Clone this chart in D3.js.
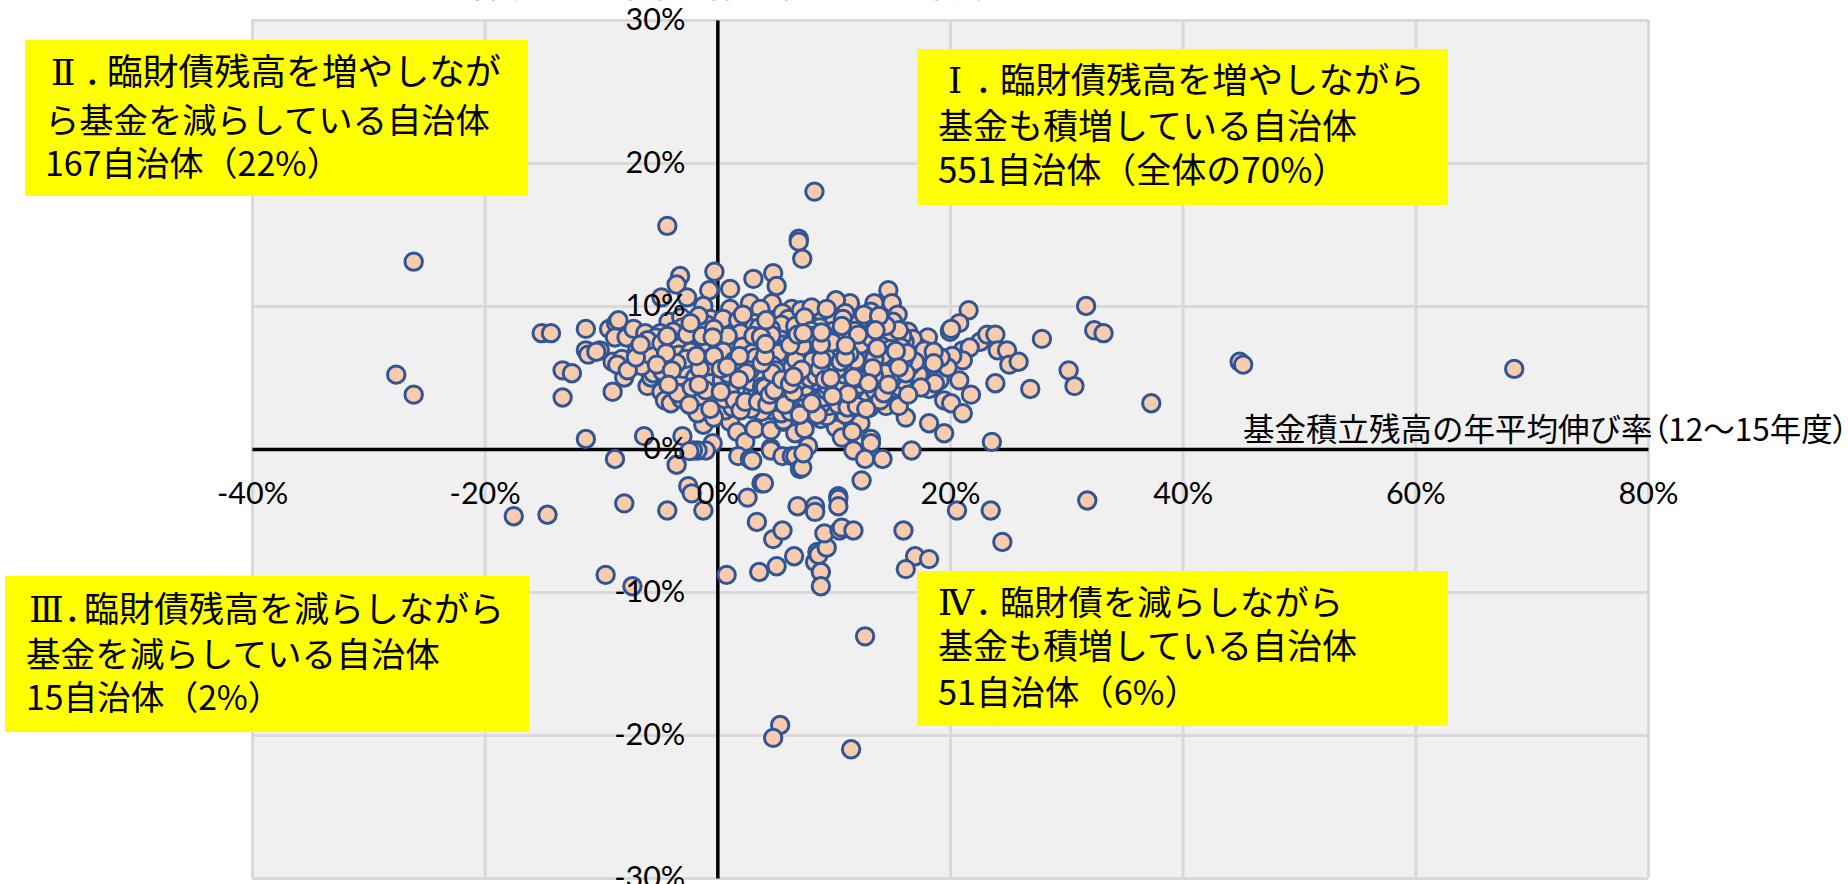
<!DOCTYPE html>
<html>
<head>
<meta charset="utf-8">
<script src="https://cdn.jsdelivr.net/npm/d3@7"></script>
<style>
  html, body { margin: 0; padding: 0; background: #fff; overflow: hidden; }
  svg { display: block; }
  .tick-labels text { font-family: Lato, "Open Sans", sans-serif; font-size: 30.5px; fill: #000; }
  .jp { font-family: "Noto Sans CJK JP", sans-serif; fill: #000; }
  .narrow { font-feature-settings: "palt"; }
</style>
</head>
<body>
<svg id="chart" width="1848" height="884"></svg>
<script>
// x = 基金積立残高の年平均伸び率 (%), y = 臨財債残高の年平均伸び率 (%)
const xTicks = [-40, -20, 0, 20, 40, 60, 80];
const yTicks = [-30, -20, -10, 0, 10, 20, 30];

// dense middle of the cloud, read row by row
const coreRight = [
  [2.2,9.4],[5.6,9.5],[7.2,9.7],[8.1,9.9],[8.9,9.6],[9.4,9.8],[11,9.5],[12.6,9.4],[13.9,9.3],
  [0.5,9.1],[1.8,9],[4.2,9],[6.1,9.1],[7.5,9.2],[8.5,9],[9.9,8.9],[10.8,9.1],[12.2,9],[14.1,9],[15.1,8.9],
  [0.3,8.6],[1.4,8.4],[2.5,8.6],[3.6,8.5],[4.6,8.4],[5.5,8.7],[6.7,8.6],[7.8,8.4],[8.8,8.5],[9.6,8.4],[10.7,8.6],[11.5,8.4],[12.7,8.5],[13.6,8.3],[14.5,8.6],[15.6,8.3],[16.4,8.2],
  [0.2,8],[0.9,7.9],[2,8.1],[3.1,7.9],[4,8],[5.1,8.1],[6,7.9],[6.9,8],[7.4,8.1],[8.3,7.9],[9.2,8],[10.3,8.1],[11.1,7.8],[12.1,8],[13,7.9],[14,8.1],[15,7.8],[15.9,7.9],[16.8,7.7],
  [0.4,7.6],[1.2,7.5],[2.4,7.7],[3.4,7.5],[4.4,7.6],[5.3,7.4],[6.3,7.6],[7.1,7.5],[7.9,7.7],[8.7,7.5],[9.5,7.6],[10.1,7.4],[10.9,7.6],[11.7,7.5],[12.5,7.6],[13.4,7.4],[14.3,7.5],[15.3,7.4],[16.1,7.5],[17,7.3],
  [0.1,7.2],[0.8,7.1],[1.7,7.3],[2.7,7.2],[3.7,7.1],[4.8,7.2],[5.7,7.3],[6.5,7.1],[7.3,7.2],[8.1,7.1],[8.9,7.3],[9.7,7.1],[10.5,7.2],[11.3,7.1],[12.3,7.3],[13.2,7.1],[14.1,7.2],[14.9,7],[15.8,7.1],[16.6,7],[17.8,6.9],[18.6,6.8],
  [0.5,6.8],[1.3,6.7],[2.2,6.9],[3,6.7],[3.9,6.8],[4.5,6.9],[5.2,6.7],[6.1,6.8],[6.8,6.7],[7.6,6.9],[8.4,6.7],[9.1,6.8],[9.9,6.7],[10.7,6.9],[11.6,6.7],[12.4,6.8],[13.1,6.6],[13.9,6.8],[14.7,6.7],[15.5,6.6],[16.3,6.7],[18.1,6.5],[19.2,6.4],
  [0.2,6.4],[1,6.3],[1.9,6.5],[2.6,6.3],[3.3,6.4],[4.1,6.5],[4.9,6.3],[5.6,6.4],[6.4,6.3],[7,6.5],[7.8,6.3],[8.6,6.4],[9.3,6.5],[10.2,6.3],[11,6.4],[11.9,6.2],[12.7,6.4],[13.5,6.3],[14.4,6.2],[15.2,6.4],[16,6.2],[17,6.1],[18.6,6],
  [0.6,6],[1.5,5.9],[2.3,6.1],[3.1,5.9],[3.8,6],[4.6,6.1],[5.4,5.9],[6.2,6],[6.9,5.9],[7.5,6.1],[8.2,5.9],[9,6],[9.8,5.9],[10.6,6.1],[11.4,5.9],[12.2,6],[13,5.8],[13.8,5.9],[14.6,5.8],[15.6,5.7],[16.6,5.8],[17.6,5.6],[19.8,5.7],
  [0.3,5.6],[1.1,5.5],[2,5.7],[2.8,5.5],[3.5,5.6],[4.3,5.7],[5,5.5],[5.8,5.6],[6.6,5.5],[7.3,5.7],[8,5.5],[8.8,5.6],[9.5,5.4],[10.3,5.6],[11.2,5.5],[12,5.6],[12.8,5.4],[13.6,5.5],[14.4,5.3],[15.3,5.4],[16.2,5.3],[17.3,5.2],
  [0.7,5.2],[1.6,5.1],[2.5,5.3],[3.2,5.1],[4,5.2],[4.7,5.3],[5.5,5.1],[6.3,5.2],[7,5],[7.7,5.2],[8.5,5.1],[9.2,5.2],[10,5],[10.9,5.2],[11.7,5],[12.5,5.1],[13.3,4.9],[14.1,5],[15,4.9],[16,4.8],[16.9,4.9],[18.7,4.6],
  [0.4,4.8],[1.2,4.7],[2.1,4.9],[2.9,4.7],[3.6,4.8],[4.4,4.6],[5.2,4.8],[6,4.7],[6.7,4.5],[7.4,4.7],[8.2,4.8],[9,4.6],[9.7,4.7],[10.5,4.5],[11.4,4.7],[12.2,4.5],[13,4.6],[13.8,4.4],[14.7,4.5],[15.7,4.3],[16.7,4.4],[17.5,4.3],
  [0.8,4.4],[1.7,4.3],[2.6,4.4],[3.4,4.2],[4.1,4.3],[4.9,4.1],[5.7,4.3],[6.4,4.2],[7.1,4],[7.9,4.2],[8.7,4.3],[9.4,4.1],[10.2,4.2],[11,4],[11.8,4.2],[12.7,4],[13.5,4.1],[14.3,3.9],[16.4,3.8],
  [0.3,4],[1.1,3.9],[2.2,3.8],[3,3.9],[3.8,3.7],[4.5,3.8],[5.3,3.6],[6.1,3.8],[6.9,3.7],[7.6,3.5],[8.4,3.7],[9.1,3.6],[9.9,3.7],[10.7,3.5],[11.5,3.6],[12.3,3.4],[13.2,3.5],[14,3.4],
  [0.6,3.5],[1.5,3.4],[2.4,3.3],[3.5,3.3],[4.3,3.1],[5,3.3],[5.8,3.1],[6.6,3.2],[7.3,3],[8.1,3.2],[8.9,3.1],[9.6,3],[10.4,3.1],[11.2,2.9],[12,3],[12.8,2.8],
  [1.3,2.9],[2,2.7],[2.9,2.8],[3.8,2.6],[4.7,2.7],[5.5,2.5],[6.3,2.6],[7.1,2.4],[7.9,2.6],[8.6,2.4],[9.4,2.3],[11,2.4],[0.7,2.7]
];

// the darkest knot, where the outlines pile up over each other
const coreKnot = [
  [1.7,7.8],[2.9,7.4],[3.3,6.95],[4.15,7.35],[5.45,7.65],[5.05,6.85],[6.55,7.85],[6.25,7.25],[6.75,6.25],[7.25,7.75],[7.65,6.55],[8.05,7.35],[8.55,6.95],[8.15,6.15],[9.05,7.65],[9.35,6.85],[9.85,7.45],[9.65,6.25],[10.45,6.75],[10.15,7.85],
  [11.05,7.25],[11.35,6.65],[11.85,7.75],[12.05,6.55],[12.65,7.15],[1.25,6.95],[2.05,6.25],[2.75,6.65],[3.55,6.15],[4.25,6.75],[4.75,5.85],[5.35,6.25],[5.95,6.55],[6.45,5.75],[7.15,6.15],[7.85,5.75],[8.35,5.45],[8.95,6.25],[9.55,5.75],[10.05,6.05],
  [10.75,5.65],[11.25,6.05],[11.75,5.45],[12.35,5.85],[13.15,6.25],[13.35,5.65],[1.75,5.55],[2.45,5.85],[3.25,5.45],[3.95,5.65],[4.55,5.25],[5.15,5.75],[5.65,5.25],[6.15,5.45],[6.85,5.25],[7.45,5.45],[7.95,4.95],[8.65,5.35],[9.25,4.85],[9.85,5.35],
  [10.45,4.95],[11.05,5.25],[11.55,4.85],[12.25,5.25],[12.95,4.95],[13.65,4.75],[0.95,5.25],[1.85,4.85],[2.65,5.05],[3.35,4.65],[4.15,4.95],[4.85,4.55],[5.55,4.85],[6.25,4.55],[6.95,4.75],[7.55,4.35],[8.25,4.55],[8.85,4.15],[9.45,4.45],[10.15,4.75],
  [10.85,4.35],[11.55,4.45],[12.45,4.25],[0.55,6.55],[0.85,5.75],[1.45,6.15],[2.85,6.05],[3.65,5.25],[4.45,6.25],[5.85,7.05],[6.65,6.85],[7.35,6.75],[8.75,7.25],[9.45,7.05],[10.65,7.55],[11.55,7.15],[12.85,6.45],[13.75,7.05],[14.25,6.55],[14.85,6.15],
  [15.35,6.85],[13.95,5.35],[14.55,5.65],[15.15,5.15],[2.15,7.15],[3.05,7.65],[3.75,7.85],[4.65,7.95],[5.55,8.15],[6.45,8.25],[7.15,8.35],[8.05,8.25],[8.95,8.15],[9.95,8.25],[10.85,8.05],[11.85,8.25],[12.45,7.95],[13.25,7.75],[1.05,4.55],[1.95,4.15],
  [2.85,4.25],[3.85,4.35],[4.65,3.95],[5.45,4.25],[6.55,3.95],[7.35,4.35],[8.15,3.85],[9.25,3.95],[10.35,3.85],[11.25,3.85],[6.05,6.05],[6.85,5.65],[7.55,5.25],[8.45,6.05],[9.15,5.55],[9.95,5.55],[7.25,5.55],[8.05,6.55],[8.85,6.65],[5.75,6.65],
  [5.25,5.35],[6.35,6.65],[7.05,7.05],[7.75,7.15],[8.45,7.65],[9.25,7.35],[10.35,7.05],[10.95,6.65],[11.65,6.35],[12.45,6.25],[4.05,5.95],[3.45,5.85],[2.95,5.45],[2.25,5.35],[1.55,5.75],[6.95,6.35],[5.05,5.15],[4.35,5.45],[5.75,5.05],[6.55,5.05],
  [7.65,4.85],[8.45,4.75],[9.05,5.05],[9.75,4.95],[10.55,5.15],[11.45,5.15],[12.05,4.95],[12.75,5.25],[13.45,5.15]
];

const coreLeft = [
  [-3.1,9.2],[-1.6,9.3],[-0.6,9.1],[-2.3,8.8],[-0.9,8.7],[-0.3,8.4],[-1.8,8.3],[-3,8.5],[-3.8,8.2],
  [-2.6,8],[-1.3,7.9],[-0.4,7.8],[-4.3,7.9],[-5.3,7.8],[-3.4,7.6],[-2,7.5],[-0.8,7.4],[-0.2,7.2],
  [-6,7.6],[-4.8,7.4],[-3.9,7.2],[-2.9,7.1],[-1.5,7.1],[-0.6,6.9],[-6.6,7.3],[-5.1,7.1],[-2.3,6.8],[-1,6.7],
  [-4.4,6.7],[-3.3,6.6],[-1.8,6.5],[-0.3,6.5],[-5.8,6.6],[-7,6.4],[-2.7,6.3],[-1.2,6.2],[-0.7,6],
  [-4.1,6.2],[-3.5,6],[-2.1,5.9],[-0.2,5.8],[-5.2,5.9],[-6.5,5.8],[-8.6,5.9],[-2.9,5.6],[-1.5,5.6],[-0.9,5.4],
  [-3.9,5.5],[-2.4,5.3],[-0.4,5.2],[-4.7,5.4],[-1.9,5],[-3.2,5.1],[-1.1,4.9],[-7.7,5.5],[-2.7,4.8],
  [-3.7,4.7],[-0.6,4.6],[-1.6,4.5],[-2.2,4.3],[-4.2,4.5],[-0.3,4.2],[-1,4.1],[-3.4,3.9],[-2.5,3.7],[-1.4,3.7],
  [-0.7,3.6],[-1.9,3.5],[-0.2,3.4],[-3.1,3.5],[-1.1,3],[-2.4,3.1],[-0.6,2.8],[-1.7,2.5],[-0.3,2.2]
];

const edgeRight = [
  [14.7,11.1],[11.4,10.2],[10.2,10.4],[13.5,10.2],[15,10.2],[13.2,9.6],[15.5,9.4],[13.1,8.8],[16,8.1],[16.3,8.2],[15.4,7.8],[12,8.6],[10,9],
  [21.6,9.7],[20.8,8.8],[20,8.3],[20,8.2],[20.1,8.4],[18.1,7.8],[17.3,7.1],[17.3,6.3],[22.6,7.5],[23.2,8],[23.9,8],[24.1,6.9],[24.9,6.9],[25.1,5.9],[25.9,6.1],[27.9,7.7],
  [31.7,10],[32.4,8.3],[33.2,8.1],[30.2,5.5],[30.7,4.4],[26.9,4.2],[23.9,4.6],[21.1,6.9],[21.7,7.1],[21.1,6.2],[20.2,6.5],[20.8,4.8],[21.8,3.8],[19.5,3.4],[20.1,3.2],[21.1,2.5],
  [18.2,1.8],[19.5,1.1],[23.6,0.5],[16.2,2.2],[14.5,3],[15.6,3],[13.2,0.7],[13.2,0.4],[10.2,1.5],[10.2,2.6],[10.7,0.8],[18.2,4.2],[19.1,4.8],[15.3,4.2],
  [13.1,2.9],[12.3,1.8],[11.6,1.2],[68.5,5.6],[44.9,6.1],[45.2,5.9],[37.3,3.2],
  [8.35,18],[7,14.7],[7,14.5],[7.3,13.3],[4.8,12.3],[5.1,11.4],[3.1,11.9],[1.1,11.2],[1.1,9.8],[2.8,10.2],[4.7,10.2],[3.7,9.8],[6.4,9.8],[3.2,8.8],
  [1.1,1.9],[1.7,1.2],[2.4,0.5],[3.2,1.4],[4.6,1.3],[5.7,1.9],[5.7,2],[6.7,1.1],[7.5,1.4],[7.8,0.2],[8.9,2.1],[3.5,3.3],[4.6,0.05]
];

const edgeLeft = [
  [-26.1,13.1],[-27.6,5.2],[-26.1,3.8],[-4.3,15.6],[-0.25,12.4],[-3.2,12.1],[-3.5,11.5],[-0.7,11.1],[-4.8,10.6],[-2.6,10.6],[-1.2,10],[-4.2,8.9],
  [-15.1,8.1],[-14.3,8.1],[-11.3,8.4],[-11.3,6.9],[-11.1,6.6],[-13.3,5.5],[-12.5,5.3],[-13.3,3.6],[-11.3,0.7],[-6.3,0.9],
  [-9,4],[-8,5],[-9.3,8.4],[-8.7,8.8],[-8.5,9],[-8.8,7.8],[-9,6.1],[-10.1,6.9],[-10.4,6.8],[-7.8,7.8],[-7.2,8.4],[-6.2,8.1],[-4.9,8.1],
  [-6,4.4],[-5.7,5],[-5.5,5.3],[-4.8,4],[-4.5,3.4],[-4,3.2],[-3,4.2],[-2,2.9],[-1.9,3],[-1.2,1.7],[-0.4,3.2],[-3,0.9],[-0.4,0.4],[-6.9,6.9],[-6.4,7],[-5.6,7.2],[-7.6,6.2],[-7.2,5.8],[-8.2,6.3],
  [-4.6,6.8],[-4.2,6.5],[-3.5,7],[-3.2,7.5],[-2.4,8.5]
];

const lowerLeft = [
  [-17.5,-4.7],[-14.6,-4.6],[-9.6,-8.8],[-7.3,-9.6],[-8.8,-0.7],[-8,-3.8],[-4.3,-4.3],[-3.5,-1.1],
  [-2.5,-2.6],[-2.2,-3.1],[-1.2,-4.3],[-1,-0.1],[-1.7,-0.1],[-2.1,-0.1],[-2.4,-0.15]
];

const lowerRight = [
  [0.8,-8.8],[3.6,-8.6],[5.1,-8.2],[6.6,-7.5],[8.4,-7.9],[8.9,-8.6],[8.9,-9.6],[8.6,-7.2],[8.7,-7.4],[9.4,-6.9],
  [4.8,-6.3],[5.6,-5.7],[3.4,-5.1],[2.6,-3.4],[3.8,-2.4],[4,-2.4],[6.9,-4],[8.4,-4],[8.4,-4.4],
  [10.4,-3.3],[10.4,-3.5],[10.4,-4],[9.2,-5.9],[10.5,-5.7],[10.7,-5.5],[11.7,-5.7],[12.4,-2.2],[16,-5.7],
  [17,-7.5],[18.2,-7.7],[16.2,-8.4],[12.7,-13.1],[5.4,-19.3],[4.8,-20.2],[11.5,-21],[20.6,-4.3],[23.5,-4.3],[24.5,-6.5],[31.8,-3.6],
  [1.8,-0.5],[2.8,-0.7],[3,-0.8],[4.6,-0.1],[5.6,-0.5],[6.4,-0.5],[6.7,-0.5],[7.1,-1.4],[7.3,-1.3],[7.4,-0.3],[11.7,-0.1],[12.7,-0.7],[14.2,-0.7],[16.7,-0.1]
];

// the source file isn't sorted by position, so mix the draw order of the middle
const drawKey = d => Math.abs(d[0] * 7.3 + d[1] * 13.7) % 1;
const core = [...coreRight, ...coreKnot, ...coreLeft].sort((a, b) => drawKey(a) - drawKey(b));
const points = [...edgeRight, ...edgeLeft, ...core, ...lowerLeft, ...lowerRight];

const yTitle = ["臨財債残高の年平均伸び率", "（12～15年度）"];
const xTitle = ["基金積立残高の年平均伸び率", "（12～15年度）"];

// note boxes, one row per quadrant: [text, x, baseline, font size]
const notes = [
  { box: [25, 40, 503, 156], numeral: ["Ⅱ", 51, 85], dot: 84, rows: [["臨財債残高を増やしなが", 107, 85, 35.8], ["ら基金を減らしている自治体", 45, 133, 34.3], ["167自治体（22%）", 45, 176, 34]] },
  { box: [917, 49, 531, 156], numeral: ["Ⅰ", 948, 93], dot: 975, rows: [["臨財債残高を増やしながら", 1000, 93, 35.4], ["基金も積増している自治体", 938, 139, 35], ["551自治体（全体の70%）", 938, 183, 35]] },
  { box: [5, 576, 524, 156], numeral: ["Ⅲ", 29, 622], dot: 64, rows: [["臨財債残高を減らしながら", 84, 622, 35], ["基金を減らしている自治体", 26, 667, 34.6], ["15自治体（2%）", 26, 710, 33.7]] },
  { box: [917, 571, 531, 155], numeral: ["Ⅳ", 938, 615], dot: 975, rows: [["臨財債を減らしながら", 1000, 615, 34.3], ["基金も積増している自治体", 938, 659, 35], ["51自治体（6%）", 938, 705, 34.4]] }
];

const svg = d3.select("#chart");

const x = d3.scaleLinear().domain([-40, 80]).range([252, 1648]);
const y = d3.scaleLinear().domain([-30, 30]).range([878, 20]);

svg.append("rect")
  .attr("x", x(-40))
  .attr("y", y(30))
  .attr("width", x(80) - x(-40))
  .attr("height", y(-30) - y(30))
  .attr("fill", "#f0f0f0");

// grid
const gridX = svg.append("g")
  .attr("transform", `translate(0,${y(-30)})`)
  .call(d3.axisBottom(x).tickValues(xTicks).tickSize(y(30) - y(-30)).tickFormat(""));
const gridY = svg.append("g")
  .attr("transform", `translate(${x(-40)},0)`)
  .call(d3.axisLeft(y).tickValues(yTicks).tickSize(x(-40) - x(80)).tickFormat(""));
[gridX, gridY].forEach(g => {
  g.select(".domain").remove();
  g.selectAll("line").attr("stroke", "#d9d9d9").attr("stroke-width", 3);
});

// zero lines
const zeroX = svg.append("g")
  .attr("transform", `translate(0,${y(0)})`)
  .call(d3.axisBottom(x).tickValues([]).tickSize(0));
const zeroY = svg.append("g")
  .attr("transform", `translate(${x(0)},0)`)
  .call(d3.axisLeft(y).tickValues([]).tickSize(0));
[zeroX, zeroY].forEach(g => g.select(".domain").attr("stroke", "#000").attr("stroke-width", 3.5));

svg.append("g")
  .selectAll("circle")
  .data(points)
  .join("circle")
  .attr("cx", d => x(d[0]))
  .attr("cy", d => y(d[1]))
  .attr("r", 8.7)
  .attr("fill", "#f8cbad")
  .attr("stroke", "#2f5597")
  .attr("stroke-width", 3);

// tick labels sit over the points
const labelX = svg.append("g")
  .attr("class", "tick-labels")
  .attr("transform", `translate(0,${y(0)})`)
  .call(d3.axisBottom(x).tickValues(xTicks).tickSize(0).tickPadding(33).tickFormat(d => d + "%"));
const labelY = svg.append("g")
  .attr("class", "tick-labels")
  .attr("transform", `translate(${x(0)},0)`)
  .call(d3.axisLeft(y).tickValues(yTicks).tickSize(0).tickPadding(32).tickFormat(d => d + "%"));
[labelX, labelY].forEach(g => g.select(".domain").remove());
labelX.attr("font-family", null).attr("font-size", null);
labelY.attr("font-family", null).attr("font-size", null);

// axis titles, the y one runs off the top of the frame as in the source
function axisTitle(parts, px, py) {
  const t = svg.append("text").attr("class", "jp").attr("x", px).attr("y", py).attr("font-size", 31.5);
  t.append("tspan").text(parts[0]);
  t.append("tspan").attr("class", "narrow").text(parts[1]);
}
axisTitle(yTitle, 424, -3);
axisTitle(xTitle, 1243, 441);

const note = svg.append("g").selectAll("g").data(notes).join("g");
note.append("rect")
  .attr("x", d => d.box[0])
  .attr("y", d => d.box[1])
  .attr("width", d => d.box[2])
  .attr("height", d => d.box[3])
  .attr("fill", "#ffff00");
note.append("text")
  .attr("font-family", "'DejaVu Serif', serif").attr("font-size", 36)
  .attr("x", d => d.numeral[1]).attr("y", d => d.numeral[2]).text(d => d.numeral[0]);
note.append("text").attr("class", "jp").attr("font-size", 35)
  .attr("x", d => d.dot).attr("y", d => d.numeral[2]).text("．");
note.selectAll("text.row")
  .data(d => d.rows)
  .join("text")
  .attr("class", "row jp")
  .attr("x", d => d[1])
  .attr("y", d => d[2])
  .attr("font-size", d => d[3])
  .text(d => d[0]);
</script>
</body>
</html>
